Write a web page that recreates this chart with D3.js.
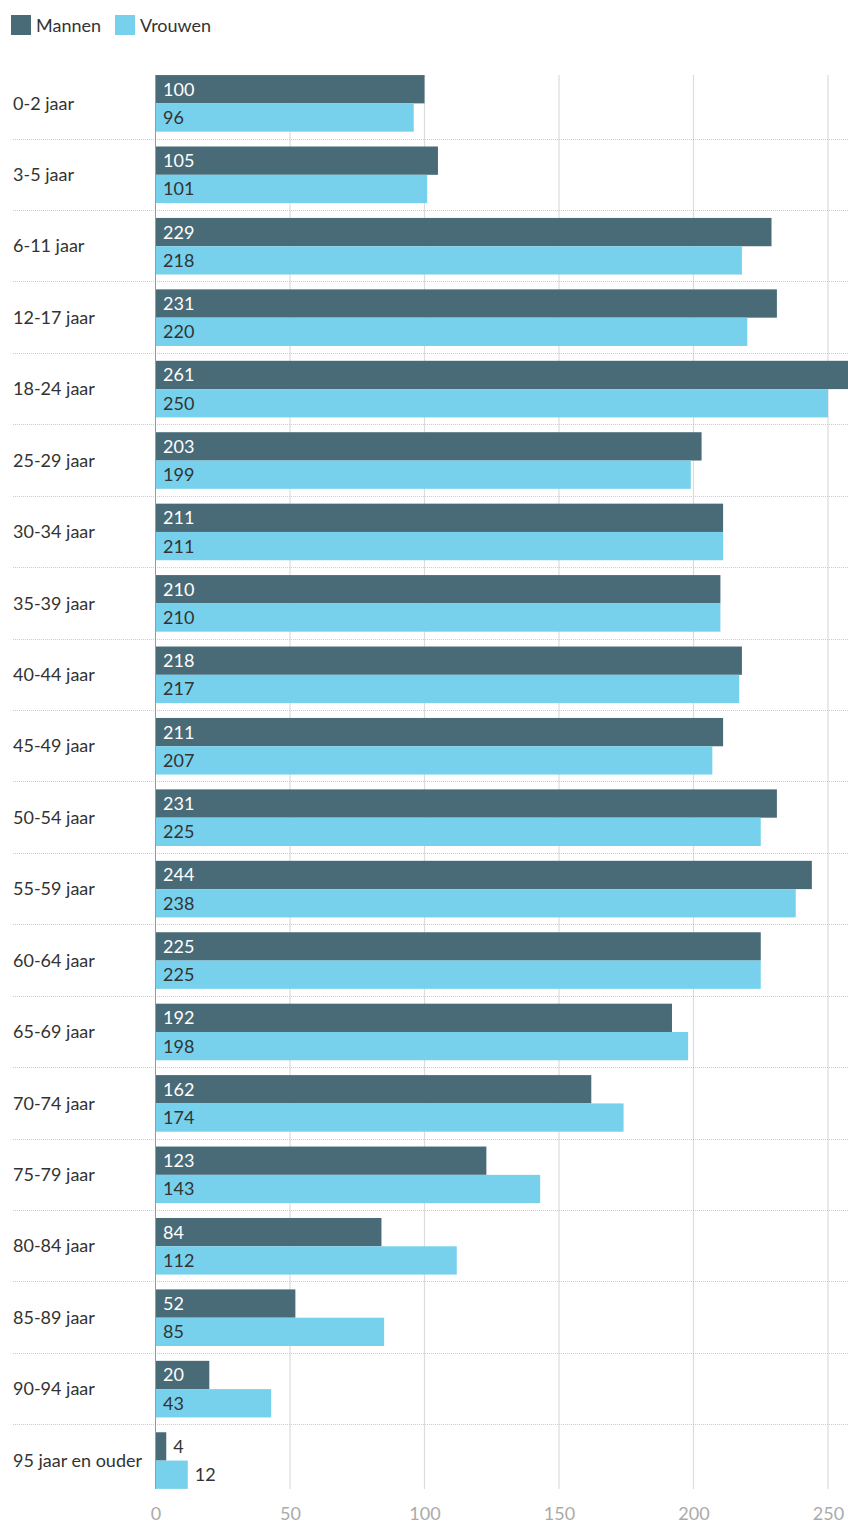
<!DOCTYPE html>
<html><head><meta charset="utf-8">
<script src="https://cdn.jsdelivr.net/npm/d3@7"></script>
<style>
body{margin:0;background:#fff;}
svg{display:block;font-family:Lato,"Noto Sans",sans-serif;}
</style></head><body>
<svg id="c" width="848" height="1524"></svg>
<script>
const categories = ["0-2 jaar","3-5 jaar","6-11 jaar","12-17 jaar","18-24 jaar","25-29 jaar","30-34 jaar","35-39 jaar","40-44 jaar","45-49 jaar","50-54 jaar","55-59 jaar","60-64 jaar","65-69 jaar","70-74 jaar","75-79 jaar","80-84 jaar","85-89 jaar","90-94 jaar","95 jaar en ouder"];
const mannen = [100,105,229,231,261,203,211,210,218,211,231,244,225,192,162,123,84,52,20,4];
const vrouwen = [96,101,218,220,250,199,211,210,217,207,225,238,225,198,174,143,112,85,43,12];
const seriesNames = ["Mannen","Vrouwen"];
const tickValues = [0,50,100,150,200,250];
const colors = ["#496a77","#77d1ec"];

const svg = d3.select("#c");
const x = d3.scaleLinear().domain([0,250]).range([155.5,828]);
const y = d3.scaleBand().domain(categories).range([67.07,1495.7]);
const inner = d3.scaleBand().domain(seriesNames).range([8,8+56.6]);

svg.append("defs").append("clipPath").attr("id","clip")
  .append("rect").attr("x",0).attr("y",0).attr("width",848).attr("height",1524);

// gridlines
svg.append("g").selectAll("line").data(tickValues.filter(d=>d>0)).join("line")
  .attr("x1",d=>x(d)).attr("x2",d=>x(d)).attr("y1",75).attr("y2",1489)
  .attr("stroke","#dcdcdc").attr("stroke-width",1.2);

// dotted row separators
svg.append("g").selectAll("line").data(categories.slice(1)).join("line")
  .attr("x1",13).attr("x2",848).attr("y1",d=>Math.round(y(d))+0.5).attr("y2",d=>Math.round(y(d))+0.5)
  .attr("stroke","#cccccc").attr("stroke-width",1).attr("stroke-dasharray","1,1");

// bars
const rows = categories.map((c,i)=>({c, vals:[mannen[i],vrouwen[i]]}));
const g = svg.append("g").attr("clip-path","url(#clip)");
rows.forEach(r=>{
  r.vals.forEach((v,j)=>{
    const s = seriesNames[j];
    const y0 = y(r.c)+inner(s);
    g.append("rect").attr("x",x(0)).attr("y",y0).attr("width",x(v)-x(0)).attr("height",inner.bandwidth())
      .attr("fill",colors[j]);
    const w = x(v)-x(0);
    const inside = w > 45;
    g.append("text")
      .attr("x", inside ? x(0)+7.5 : x(v)+7)
      .attr("y", y0+inner.bandwidth()/2+6.5)
      .attr("font-size",18)
      .attr("fill", inside ? (j===0?"#ffffff":"#333333") : "#333333")
      .text(v);
  });
});

// zero axis line
svg.append("line").attr("x1",x(0)).attr("x2",x(0)).attr("y1",75).attr("y2",1489)
  .attr("stroke","#999999").attr("stroke-width",1);

// category labels
svg.append("g").selectAll("text").data(categories).join("text")
  .attr("x",13).attr("y",d=>y(d)+y.bandwidth()/2+6.8)
  .attr("font-size",18).attr("fill","#333333").text(d=>d);

// x axis labels
const axis = d3.axisBottom(x).tickValues(tickValues).tickSize(0).tickPadding(0);
const ax = svg.append("g").attr("transform","translate(0,1507)").call(axis);
ax.select(".domain").remove();
ax.selectAll("text").attr("font-size",18).attr("fill","#aaaaaa").attr("font-family","Lato,sans-serif").attr("dy","0.72em");

// legend
const leg = svg.append("g");
const legX = [11,115];
seriesNames.forEach((s,i)=>{
  leg.append("rect").attr("x",legX[i]).attr("y",15).attr("width",20).attr("height",20).attr("fill",colors[i]);
  leg.append("text").attr("x",legX[i]+25).attr("y",32).attr("font-size",18).attr("fill","#333333").text(s);
});
</script>
</body></html>
